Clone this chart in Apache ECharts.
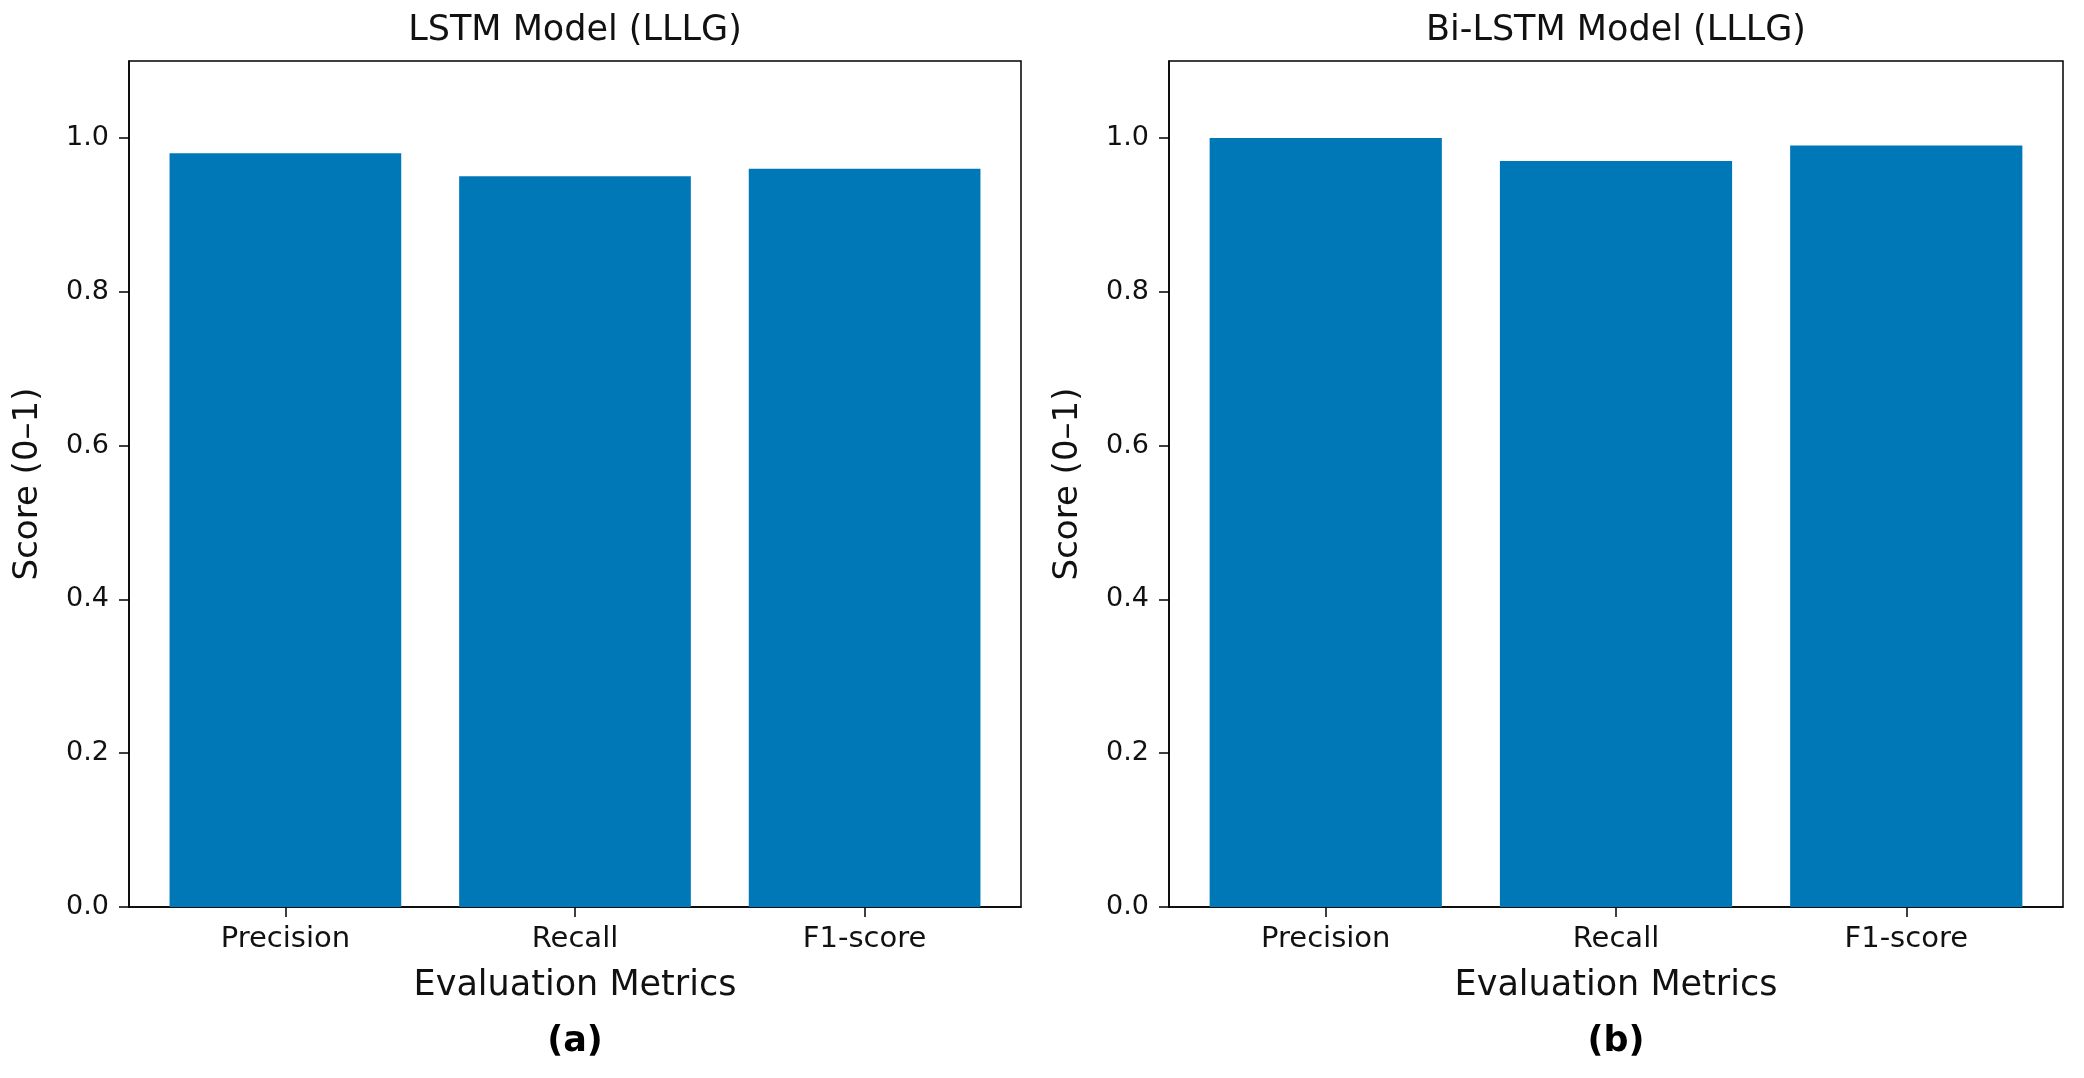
<!DOCTYPE html>
<html>
<head>
<meta charset="utf-8">
<script src="https://cdn.jsdelivr.net/npm/echarts@6/dist/echarts.min.js"></script>
<style>
html,body{margin:0;padding:0;background:#fff;}
#chart{width:2084px;height:1078px;}
</style>
</head>
<body>
<div id="chart"></div>
<script>
// ---- data ----
const categories = ['Precision', 'Recall', 'F1-score'];
const lstmScores = [0.98, 0.95, 0.96];
const biLstmScores = [1.00, 0.97, 0.99];
const yTicks = [0.0, 0.2, 0.4, 0.6, 0.8, 1.0];
const panelTitles = ['LSTM Model (LLLG)', 'Bi-LSTM Model (LLLG)'];
const panelLabels = ['(a)', '(b)'];
const xAxisName = 'Evaluation Metrics';
const yAxisName = 'Score (0–1)';

(function () {
// ---- layout ----
const frames = [
  {left: 129, right: 1021},
  {left: 1169, right: 2063}
];
const frameTop = 61, frameBottom = 907;
const xMin = -0.54, xMax = 2.54;
const FONT = 'DejaVu Sans';
const TXT = '#111';
const BAR = '#0077b6';

const chart = echarts.init(document.getElementById('chart'), null, {renderer: 'canvas'});

const grids = [], xAxes = [], yAxes = [], series = [], graphics = [];
const panelData = [lstmScores, biLstmScores];

frames.forEach((f, i) => {
  const gw = f.right - f.left;
  grids.push({
    left: f.left, width: gw, top: frameTop, height: frameBottom - frameTop,
    show: true, borderColor: '#000', borderWidth: 1.5, backgroundColor: 'transparent',
    containLabel: false
  });
  xAxes.push({
    type: 'value', gridIndex: i, min: xMin, max: xMax,
    name: xAxisName, nameLocation: 'middle', nameGap: 79,
    nameTextStyle: {fontFamily: FONT, fontSize: 35, color: TXT, verticalAlign: 'middle'},
    axisLine: {show: true, onZero: false, lineStyle: {color: '#000', width: 1.5}},
    axisTick: {show: true, length: 10, lineStyle: {color: '#000', width: 1.5}, customValues: [0, 1, 2]},
    axisLabel: {
      show: true, margin: 18, fontFamily: FONT, fontSize: 29, color: TXT,
      customValues: [0, 1, 2],
      formatter: v => categories[Math.round(v)] || ''
    },
    splitLine: {show: false}
  });
  yAxes.push({
    type: 'value', gridIndex: i, min: 0, max: 1.1,
    name: yAxisName, nameLocation: 'middle', nameGap: 101,
    nameTextStyle: {fontFamily: FONT, fontSize: 34, color: TXT, verticalAlign: 'middle'},
    axisLine: {show: true, onZero: false, lineStyle: {color: '#000', width: 1.5}},
    axisTick: {show: true, length: 10, lineStyle: {color: '#000', width: 1.5}, customValues: yTicks},
    axisLabel: {
      show: true, margin: 20, fontFamily: FONT, fontSize: 27, color: TXT,
      customValues: yTicks,
      formatter: v => v.toFixed(1)
    },
    splitLine: {show: false}
  });
  const unitPx = gw / (xMax - xMin);
  series.push({
    type: 'bar', xAxisIndex: i, yAxisIndex: i,
    data: panelData[i].map((v, k) => [k, v]),
    barWidth: 0.8 * unitPx,
    itemStyle: {color: BAR},
    silent: true
  });
  const cx = (f.left + f.right) / 2;
  graphics.push({
    type: 'text', x: cx, y: 31,
    style: {text: panelTitles[i], fontFamily: FONT, fontSize: 35, fill: TXT, textAlign: 'center', textVerticalAlign: 'middle'}
  });
  graphics.push({
    type: 'text', x: cx, y: 1042,
    style: {text: panelLabels[i], fontFamily: FONT, fontSize: 35, fontWeight: 'bold', fill: '#000', textAlign: 'center', textVerticalAlign: 'middle'}
  });
});

chart.setOption({
  animation: false,
  backgroundColor: '#fff',
  grid: grids,
  xAxis: xAxes,
  yAxis: yAxes,
  series: series,
  graphic: graphics
});
})();
</script>
</body>
</html>
